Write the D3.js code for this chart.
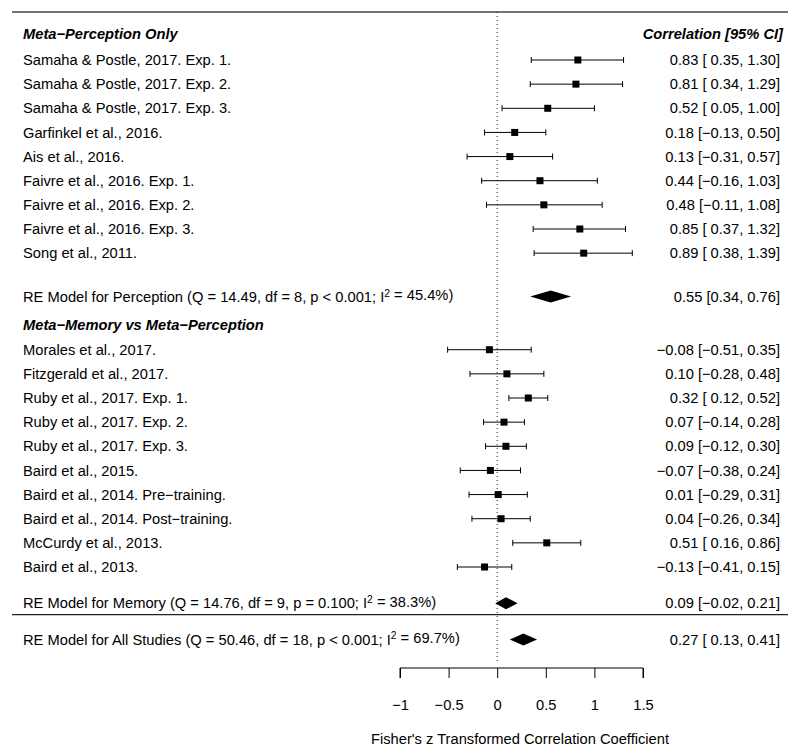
<!DOCTYPE html>
<html>
<head>
<meta charset="utf-8">
<script src="https://cdn.jsdelivr.net/npm/d3@7"></script>
<style>
  html, body { margin: 0; padding: 0; background: #fff; }
  svg text { font-family: "Liberation Sans", Arial, Helvetica, sans-serif; fill: #000; }
</style>
</head>
<body>
<svg id="chart" width="800" height="756"></svg>
<script>
// ---------- data ----------
const percStudies = [
  "Samaha & Postle, 2017. Exp. 1.",
  "Samaha & Postle, 2017. Exp. 2.",
  "Samaha & Postle, 2017. Exp. 3.",
  "Garfinkel et al., 2016.",
  "Ais et al., 2016.",
  "Faivre et al., 2016. Exp. 1.",
  "Faivre et al., 2016. Exp. 2.",
  "Faivre et al., 2016. Exp. 3.",
  "Song et al., 2011."
];
const percEst = [0.83, 0.81, 0.52, 0.18, 0.13, 0.44, 0.48, 0.85, 0.89];
const percLo  = [0.35, 0.34, 0.05, -0.13, -0.31, -0.16, -0.11, 0.37, 0.38];
const percHi  = [1.30, 1.29, 1.00, 0.50, 0.57, 1.03, 1.08, 1.32, 1.39];

const memStudies = [
  "Morales et al., 2017.",
  "Fitzgerald et al., 2017.",
  "Ruby et al., 2017. Exp. 1.",
  "Ruby et al., 2017. Exp. 2.",
  "Ruby et al., 2017. Exp. 3.",
  "Baird et al., 2015.",
  "Baird et al., 2014. Pre\u2212training.",
  "Baird et al., 2014. Post\u2212training.",
  "McCurdy et al., 2013.",
  "Baird et al., 2013."
];
const memEst = [-0.08, 0.10, 0.32, 0.07, 0.09, -0.07, 0.01, 0.04, 0.51, -0.13];
const memLo  = [-0.51, -0.28, 0.12, -0.14, -0.12, -0.38, -0.29, -0.26, 0.16, -0.41];
const memHi  = [0.35, 0.48, 0.52, 0.28, 0.30, 0.24, 0.31, 0.34, 0.86, 0.15];

const groupHeaders = ["Meta\u2212Perception Only", "Meta\u2212Memory vs Meta\u2212Perception"];
const annotHeader = "Correlation [95% CI]";

const summaryNames = ["RE Model for Perception", "RE Model for Memory", "RE Model for All Studies"];
const summaryQ   = ["14.49", "14.76", "50.46"];
const summaryDf  = ["8", "9", "18"];
const summaryP   = ["p < 0.001", "p = 0.100", "p < 0.001"];
const summaryI2  = ["45.4%", "38.3%", "69.7%"];
const summaryEst = [0.55, 0.09, 0.27];
const summaryLo  = [0.34, -0.02, 0.13];
const summaryHi  = [0.76, 0.21, 0.41];
const summaryPad = [false, true, true];

const xTicks = [-1, -0.5, 0, 0.5, 1, 1.5];
const xTickLabels = ["\u22121", "\u22120.5", "0", "0.5", "1", "1.5"];
const xTitle = "Fisher's z Transformed Correlation Coefficient";

// ---------- layout ----------
const svg = d3.select("#chart");
const FS = 14.7;
const x = d3.scaleLinear().domain([-1, 1.5]).range([400, 643]);
const y = d3.scaleLinear().domain([0, 21]).range([60, 567]);
const leftX = 23, rightX = 780;

const fmt = (v) => (v < 0 ? "\u2212" : "") + Math.abs(v).toFixed(2);
const fmtPad = (v, pad) => (pad && v >= 0 ? " " : "") + fmt(v);
const annot = (e, lo, hi, pad) => fmt(e) + " [" + fmtPad(lo, pad) + ", " + fmt(hi) + "]";

// rows
const rows = [];
percStudies.forEach((s, i) => rows.push({ name: s, est: percEst[i], lo: percLo[i], hi: percHi[i], k: i }));
memStudies.forEach((s, i) => rows.push({ name: s, est: memEst[i], lo: memLo[i], hi: memHi[i], k: 12 + i }));
const summaryK = [9.8, 22.5, 24.0];
const headerK = [-1.1, 10.95];

// top line & separator
svg.append("line").attr("x1", 12).attr("x2", 788).attr("y1", 12).attr("y2", 12)
  .attr("stroke", "#444").attr("stroke-width", 1.6);
svg.append("line").attr("x1", 12).attr("x2", 788).attr("y1", y(22.97)).attr("y2", y(22.97))
  .attr("stroke", "#222").attr("stroke-width", 1.2);

// reference line
svg.append("line").attr("x1", x(0)).attr("x2", x(0)).attr("y1", 12).attr("y2", 662)
  .attr("stroke", "#222").attr("stroke-width", 1).attr("stroke-dasharray", "1,3");

// headers
groupHeaders.forEach((h, i) => {
  svg.append("text").attr("x", leftX).attr("y", y(headerK[i])).attr("dy", "0.35em")
    .attr("font-size", FS).attr("font-weight", "bold").attr("font-style", "italic").text(h);
});
svg.append("text").attr("x", rightX + 3).attr("y", y(headerK[0])).attr("dy", "0.35em")
  .attr("text-anchor", "end").attr("font-size", FS).attr("font-weight", "bold")
  .attr("font-style", "italic").text(annotHeader);

// study rows
const g = svg.append("g");
rows.forEach(r => {
  const yy = y(r.k);
  g.append("text").attr("x", leftX).attr("y", yy).attr("dy", "0.35em").attr("font-size", FS).text(r.name);
  g.append("text").attr("x", rightX).attr("y", yy).attr("dy", "0.35em").attr("font-size", FS)
    .attr("text-anchor", "end").style("white-space", "pre")
    .text(annot(r.est, r.lo, r.hi, true));
  g.append("line").attr("x1", x(r.lo)).attr("x2", x(r.hi)).attr("y1", yy).attr("y2", yy)
    .attr("stroke", "#000").attr("stroke-width", 1);
  [r.lo, r.hi].forEach(v => {
    g.append("line").attr("x1", x(v)).attr("x2", x(v)).attr("y1", yy - 3).attr("y2", yy + 3)
      .attr("stroke", "#000").attr("stroke-width", 1);
  });
  g.append("rect").attr("x", x(r.est) - 3.5).attr("y", yy - 3.5).attr("width", 7).attr("height", 7)
    .attr("fill", "#000");
});

// summaries
summaryNames.forEach((n, i) => {
  const yy = y(summaryK[i]);
  const t = svg.append("text").attr("x", leftX).attr("y", yy).attr("dy", "0.35em").attr("font-size", FS);
  t.append("tspan").text(n + " (Q = " + summaryQ[i] + ", df = " + summaryDf[i] + ", " + summaryP[i] + "; I");
  t.append("tspan").attr("font-size", FS * 0.7).attr("dy", "-0.5em").text("2");
  t.append("tspan").attr("dy", "0.25em").text(" = " + summaryI2[i] + ")");
  svg.append("text").attr("x", rightX).attr("y", yy).attr("dy", "0.35em").attr("font-size", FS)
    .attr("text-anchor", "end").style("white-space", "pre")
    .text(annot(summaryEst[i], summaryLo[i], summaryHi[i], summaryPad[i]));
  const h = 6;
  svg.append("path")
    .attr("d", `M${x(summaryLo[i])},${yy} L${x(summaryEst[i])},${yy - h} L${x(summaryHi[i])},${yy} L${x(summaryEst[i])},${yy + h} Z`)
    .attr("fill", "#000");
});

// axis
const axisY = 668;
const axis = d3.axisBottom(x).tickValues(xTicks).tickSize(10).tickFormat((d, i) => xTickLabels[i]);
const ag = svg.append("g").attr("transform", `translate(0,${axisY})`).call(axis);
ag.select(".domain").attr("d", `M${x(-1)},10V0H${x(1.5)}V10`).attr("stroke", "#000").attr("stroke-width", 1);
ag.selectAll(".tick line").attr("stroke", "#000");
ag.selectAll(".tick text").attr("font-size", FS).attr("y", 37).attr("dy", "0.35em")
  .style("font-family", '"Liberation Sans", Arial, sans-serif').attr("fill", "#000");

svg.append("text").attr("x", 520).attr("y", 739).attr("dy", "0.35em").attr("text-anchor", "middle")
  .attr("font-size", FS).text(xTitle);
</script>
</body>
</html>
